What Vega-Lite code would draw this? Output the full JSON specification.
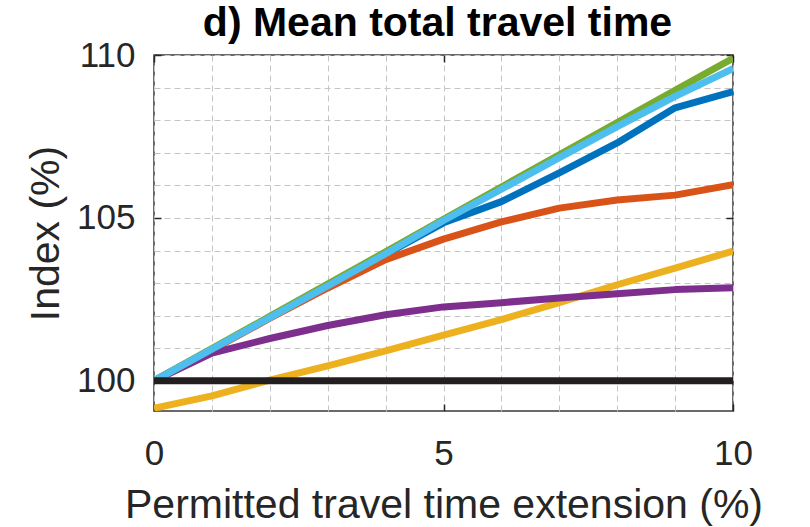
{
  "$schema": "https://vega.github.io/schema/vega-lite/v6.json",
  "autosize": "none",
  "width": 579,
  "height": 356,
  "padding": {"left": 154, "top": 55, "right": 77, "bottom": 116},
  "background": "white",
  "title": {
    "text": "d) Mean total travel time",
    "font": "Liberation Sans",
    "fontSize": 41,
    "fontWeight": "bold",
    "color": "#000000",
    "anchor": "middle",
    "frame": "group",
    "baseline": "top",
    "offset": -7,
    "dx": -6
  },
  "config": {
    "view": {"stroke": "#3a3a3a", "strokeWidth": 1.5},
    "font": "Liberation Sans"
  },
  "data": {
    "values": [
      {"s": "blue", "x": 0, "y": 100}, {"s": "blue", "x": 1, "y": 100.97}, {"s": "blue", "x": 2, "y": 101.94}, {"s": "blue", "x": 3, "y": 102.92}, {"s": "blue", "x": 4, "y": 103.88}, {"s": "blue", "x": 5, "y": 104.85}, {"s": "blue", "x": 6, "y": 105.5}, {"s": "blue", "x": 7, "y": 106.38}, {"s": "blue", "x": 8, "y": 107.3}, {"s": "blue", "x": 9, "y": 108.38}, {"s": "blue", "x": 10, "y": 108.88},
      {"s": "orange", "x": 0, "y": 100}, {"s": "orange", "x": 1, "y": 100.95}, {"s": "orange", "x": 2, "y": 101.92}, {"s": "orange", "x": 3, "y": 102.85}, {"s": "orange", "x": 4, "y": 103.72}, {"s": "orange", "x": 5, "y": 104.35}, {"s": "orange", "x": 6, "y": 104.88}, {"s": "orange", "x": 7, "y": 105.3}, {"s": "orange", "x": 8, "y": 105.55}, {"s": "orange", "x": 9, "y": 105.7}, {"s": "orange", "x": 10, "y": 106.02},
      {"s": "yellow", "x": 0, "y": 99.16}, {"s": "yellow", "x": 1, "y": 99.54}, {"s": "yellow", "x": 2, "y": 100.02}, {"s": "yellow", "x": 3, "y": 100.46}, {"s": "yellow", "x": 4, "y": 100.92}, {"s": "yellow", "x": 5, "y": 101.4}, {"s": "yellow", "x": 6, "y": 101.88}, {"s": "yellow", "x": 7, "y": 102.4}, {"s": "yellow", "x": 8, "y": 102.95}, {"s": "yellow", "x": 9, "y": 103.46}, {"s": "yellow", "x": 10, "y": 103.98},
      {"s": "purple", "x": 0, "y": 100}, {"s": "purple", "x": 1, "y": 100.85}, {"s": "purple", "x": 2, "y": 101.3}, {"s": "purple", "x": 3, "y": 101.7}, {"s": "purple", "x": 4, "y": 102.03}, {"s": "purple", "x": 5, "y": 102.27}, {"s": "purple", "x": 6, "y": 102.4}, {"s": "purple", "x": 7, "y": 102.54}, {"s": "purple", "x": 8, "y": 102.67}, {"s": "purple", "x": 9, "y": 102.8}, {"s": "purple", "x": 10, "y": 102.86},
      {"s": "green", "x": 0, "y": 100}, {"s": "green", "x": 1, "y": 100.99}, {"s": "green", "x": 2, "y": 101.98}, {"s": "green", "x": 3, "y": 102.97}, {"s": "green", "x": 4, "y": 103.96}, {"s": "green", "x": 5, "y": 104.96}, {"s": "green", "x": 6, "y": 105.95}, {"s": "green", "x": 7, "y": 106.94}, {"s": "green", "x": 8, "y": 107.93}, {"s": "green", "x": 9, "y": 108.92}, {"s": "green", "x": 10, "y": 109.9},
      {"s": "lightblue", "x": 0, "y": 100}, {"s": "lightblue", "x": 1, "y": 100.97}, {"s": "lightblue", "x": 2, "y": 101.94}, {"s": "lightblue", "x": 3, "y": 102.91}, {"s": "lightblue", "x": 4, "y": 103.9}, {"s": "lightblue", "x": 5, "y": 104.92}, {"s": "lightblue", "x": 6, "y": 105.88}, {"s": "lightblue", "x": 7, "y": 106.85}, {"s": "lightblue", "x": 8, "y": 107.8}, {"s": "lightblue", "x": 9, "y": 108.73}, {"s": "lightblue", "x": 10, "y": 109.58},
      {"s": "black", "x": 0, "y": 100}, {"s": "black", "x": 10, "y": 100}
    ]
  },
  "resolve": {"axis": {"x": "independent", "y": "independent"}},
  "layer": [
    {
      "mark": {"type": "line", "clip": true, "strokeCap": "butt", "strokeJoin": "round"},
      "encoding": {
        "x": {
          "field": "x",
          "type": "quantitative",
          "scale": {"domain": [0, 10], "nice": false, "zero": false},
          "axis": {
            "values": [0, 1, 2, 3, 4, 5, 6, 7, 8, 9, 10],
            "labelExpr": "datum.value % 5 === 0 ? datum.label : ''",
            "labelFontSize": 35,
            "labelColor": "#262626",
            "labelPadding": 32,
            "labelFlush": false,
            "domain": false,
            "grid": true,
            "gridColor": "#c4c4c4",
            "gridDash": [6, 4],
            "gridWidth": 1,
            "ticks": true,
            "tickSize": -7,
            "tickColor": "#262626",
            "tickWidth": 1.5,
            "tickOpacity": {"condition": {"test": "datum.value % 5 === 0", "value": 1}, "value": 0},
            "title": "Permitted travel time extension (%)",
            "titleFontSize": 41,
            "titleFontWeight": "normal",
            "titleColor": "#262626",
            "titleBaseline": "alphabetic",
            "titleY": 106
          }
        },
        "y": {
          "field": "y",
          "type": "quantitative",
          "scale": {"domain": [99.075, 110], "nice": false, "zero": false},
          "axis": {
            "values": [100, 101, 102, 103, 104, 105, 106, 107, 108, 109, 110],
            "labelExpr": "datum.value % 5 === 0 ? datum.label : ''",
            "labelFontSize": 35,
            "labelColor": "#262626",
            "labelPadding": 26,
            "labelFlush": false,
            "domain": false,
            "grid": true,
            "gridColor": "#c4c4c4",
            "gridDash": [6, 4],
            "gridWidth": 1,
            "ticks": true,
            "tickSize": -7,
            "tickColor": "#262626",
            "tickWidth": 1.5,
            "tickOpacity": {"condition": {"test": "datum.value % 5 === 0", "value": 1}, "value": 0},
            "title": "Index (%)",
            "titleFontSize": 41,
            "titleFontWeight": "normal",
            "titleColor": "#262626",
            "titleBaseline": "alphabetic",
            "titleX": -96
          }
        },
        "color": {
          "field": "s",
          "type": "nominal",
          "legend": null,
          "sort": null,
          "scale": {
            "domain": ["blue", "orange", "yellow", "purple", "green", "lightblue", "black"],
            "range": ["#0072BD", "#D95319", "#EDB120", "#7E2F8E", "#77AC30", "#4DBEEE", "#231F20"]
          }
        },
        "strokeWidth": {
          "field": "s",
          "type": "nominal",
          "legend": null,
          "scale": {
            "domain": ["blue", "orange", "yellow", "purple", "green", "lightblue", "black"],
            "range": [7, 7, 7.5, 8, 7, 7.5, 9]
          }
        }
      }
    },
    {
      "mark": {"type": "line", "clip": true, "strokeOpacity": 0},
      "encoding": {
        "x": {
          "field": "x",
          "type": "quantitative",
          "axis": {
            "orient": "top",
            "values": [0, 5, 10],
            "labels": false,
            "domain": false,
            "grid": false,
            "ticks": true,
            "tickSize": -7,
            "tickColor": "#262626",
            "tickWidth": 1.5,
            "title": null
          }
        },
        "y": {
          "field": "y",
          "type": "quantitative",
          "axis": {
            "orient": "right",
            "values": [100, 105, 110],
            "labels": false,
            "domain": false,
            "grid": false,
            "ticks": true,
            "tickSize": -7,
            "tickColor": "#262626",
            "tickWidth": 1.5,
            "title": null
          }
        },
        "detail": {"field": "s", "type": "nominal"}
      }
    }
  ]
}
